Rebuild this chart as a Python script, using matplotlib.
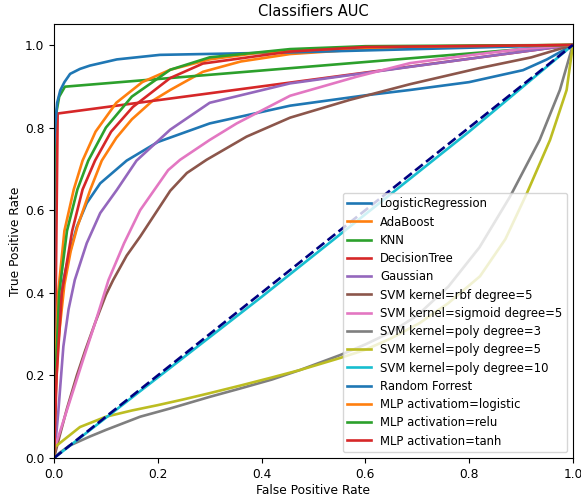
import matplotlib
matplotlib.use("Agg")
import matplotlib.pyplot as plt

plt.rcParams["font.size"] = 8.8

# ROC points (fpr, tpr per classifier)
names = [
    "LogisticRegression", "AdaBoost", "KNN", "DecisionTree", "Gaussian",
    "SVM kernel=rbf degree=5", "SVM kernel=sigmoid degree=5",
    "SVM kernel=poly degree=3", "SVM kernel=poly degree=5",
    "SVM kernel=poly degree=10", "Random Forrest",
    "MLP activatiom=logistic", "MLP activation=relu", "MLP activation=tanh",
]

logreg_fpr = [0, 0.003, 0.008, 0.018, 0.028, 0.044, 0.063, 0.089, 0.14, 0.2, 0.3, 0.455, 0.6, 0.686, 0.8, 0.904, 0.95, 1]
logreg_tpr = [0, 0.2, 0.33, 0.43, 0.487, 0.56, 0.617, 0.665, 0.72, 0.765, 0.81, 0.853, 0.878, 0.891, 0.91, 0.939, 0.965, 1]

ada_fpr = [0, 0.003, 0.008, 0.02, 0.032, 0.045, 0.07, 0.092, 0.12, 0.15, 0.19, 0.224, 0.287, 0.36, 0.455, 0.6, 0.8, 1]
ada_tpr = [0, 0.15, 0.28, 0.42, 0.5, 0.56, 0.65, 0.72, 0.775, 0.82, 0.865, 0.891, 0.935, 0.96, 0.978, 0.99, 0.997, 1]

knn_fpr = [0, 0.001, 0.002, 0.005, 0.01, 0.021, 1]
knn_tpr = [0, 0.6, 0.78, 0.84, 0.875, 0.899, 1]

dt_fpr = [0, 0.007, 1]
dt_tpr = [0, 0.834, 1]

gauss_fpr = [0, 0.003, 0.008, 0.018, 0.028, 0.04, 0.063, 0.089, 0.121, 0.159, 0.224, 0.3, 0.455, 0.686, 0.85, 1]
gauss_tpr = [0, 0.04, 0.108, 0.27, 0.36, 0.431, 0.52, 0.593, 0.649, 0.72, 0.795, 0.86, 0.907, 0.947, 0.975, 1]

rbf_fpr = [0, 0.01, 0.025, 0.044, 0.06, 0.08, 0.1, 0.114, 0.14, 0.166, 0.224, 0.256, 0.294, 0.371, 0.455, 0.57, 0.686, 0.82, 0.92, 1]
rbf_tpr = [0, 0.05, 0.12, 0.2, 0.26, 0.33, 0.395, 0.431, 0.49, 0.536, 0.647, 0.69, 0.722, 0.778, 0.824, 0.867, 0.905, 0.944, 0.97, 1]

sig_fpr = [0, 0.002, 0.02, 0.04, 0.056, 0.08, 0.105, 0.135, 0.166, 0.22, 0.243, 0.3, 0.352, 0.455, 0.583, 0.686, 0.8, 0.9, 1]
sig_tpr = [0, 0.027, 0.097, 0.175, 0.238, 0.33, 0.431, 0.52, 0.6, 0.697, 0.722, 0.77, 0.81, 0.877, 0.923, 0.956, 0.975, 0.99, 1]

poly3_fpr = [0, 0.01, 0.03, 0.069, 0.1, 0.166, 0.224, 0.3, 0.358, 0.42, 0.474, 0.551, 0.6, 0.65, 0.7, 0.76, 0.82, 0.879, 0.936, 0.975, 1]
poly3_tpr = [0, 0.012, 0.03, 0.052, 0.068, 0.1, 0.12, 0.148, 0.168, 0.19, 0.213, 0.249, 0.275, 0.305, 0.345, 0.415, 0.51, 0.633, 0.77, 0.891, 1]

poly5_fpr = [0, 0.002, 0.02, 0.05, 0.1, 0.15, 0.2, 0.25, 0.3, 0.358, 0.42, 0.474, 0.551, 0.6, 0.65, 0.705, 0.76, 0.821, 0.87, 0.911, 0.956, 0.988, 1]
poly5_tpr = [0, 0.027, 0.045, 0.075, 0.1, 0.115, 0.128, 0.142, 0.157, 0.175, 0.195, 0.213, 0.242, 0.262, 0.29, 0.327, 0.375, 0.44, 0.53, 0.64, 0.77, 0.891, 1]

poly10_fpr = [0, 0.2, 0.4, 0.6, 0.8, 1]
poly10_tpr = [0, 0.195, 0.39, 0.59, 0.79, 1]

rf_fpr = [0, 0, 0.002, 0.006, 0.012, 0.02, 0.031, 0.05, 0.069, 0.121, 0.204, 0.455, 0.7, 1]
rf_tpr = [0, 0.75, 0.8, 0.86, 0.89, 0.91, 0.93, 0.942, 0.95, 0.965, 0.976, 0.982, 0.99, 1]

mlp_log_fpr = [0, 0.002, 0.008, 0.02, 0.038, 0.055, 0.08, 0.12, 0.17, 0.224, 0.3, 0.4, 0.6, 1]
mlp_log_tpr = [0, 0.2, 0.4, 0.55, 0.65, 0.72, 0.79, 0.86, 0.91, 0.94, 0.965, 0.982, 0.995, 1]

mlp_relu_fpr = [0, 0.003, 0.01, 0.025, 0.045, 0.066, 0.1, 0.15, 0.224, 0.3, 0.455, 0.6, 1]
mlp_relu_tpr = [0, 0.2, 0.4, 0.55, 0.65, 0.72, 0.8, 0.875, 0.94, 0.97, 0.99, 0.997, 1]

mlp_tanh_fpr = [0, 0.005, 0.015, 0.035, 0.055, 0.079, 0.11, 0.152, 0.224, 0.287, 0.455, 0.6, 1]
mlp_tanh_tpr = [0, 0.2, 0.4, 0.55, 0.65, 0.72, 0.79, 0.85, 0.92, 0.955, 0.984, 0.995, 1]

curves = [
    (logreg_fpr, logreg_tpr), (ada_fpr, ada_tpr), (knn_fpr, knn_tpr),
    (dt_fpr, dt_tpr), (gauss_fpr, gauss_tpr), (rbf_fpr, rbf_tpr),
    (sig_fpr, sig_tpr), (poly3_fpr, poly3_tpr), (poly5_fpr, poly5_tpr),
    (poly10_fpr, poly10_tpr), (rf_fpr, rf_tpr), (mlp_log_fpr, mlp_log_tpr),
    (mlp_relu_fpr, mlp_relu_tpr), (mlp_tanh_fpr, mlp_tanh_tpr),
]

fig = plt.figure(figsize=(5.81, 4.96), dpi=100)
ax = fig.add_axes([0.093, 0.0766, 0.893, 0.8744])

for (fpr, tpr), name in zip(curves, names):
    ax.plot(fpr, tpr, lw=1.9, label=name)

# chance line
ax.plot([0, 1], [0, 1], color="navy", lw=1.9, linestyle="--")

ax.set_xlim([0.0, 1.0])
ax.set_ylim([0.0, 1.05])
ax.set_xlabel("False Positive Rate", labelpad=2)
ax.set_ylabel("True Positive Rate", labelpad=2)
ax.set_title("Classifiers AUC")
ax.legend(loc="lower right", fontsize=8.4, labelspacing=0.45)

fig.savefig("out.png", dpi=100)
